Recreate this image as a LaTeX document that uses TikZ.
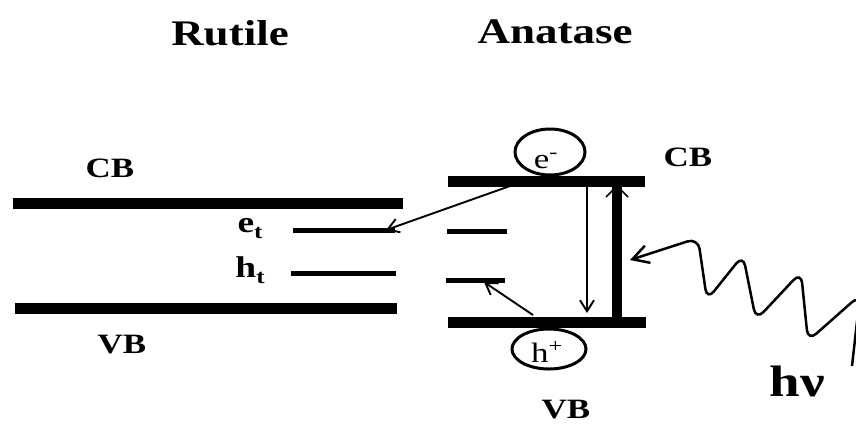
\documentclass[tikz,border=0pt]{standalone}
\usepackage{fontspec}
\setmainfont{Liberation Serif}
\usetikzlibrary{arrows.meta,shapes.geometric}
\newcommand{\lb}[2]{\scalebox{1.25}[1]{\fontsize{#1}{#1}\selectfont\bfseries #2}}
\newcommand{\sbt}{\raisebox{-6pt}{\fontsize{20}{20}\selectfont t}}
\begin{document}
\begin{tikzpicture}[x=1pt,y=-1pt,
  lbl/.style={inner sep=0pt, anchor=base},
  band/.style={line width=11pt},
  trap/.style={line width=5pt},
  arr/.style={line width=1.9pt, -{Straight Barb[length=11pt,width=14pt,line width=1.9pt]}},
  blob/.style={draw, ellipse, line width=3pt, inner sep=0pt}]
\useasboundingbox (0,0) rectangle (856,424);
\clip (0,0) rectangle (856,424);
% titles
\node[lbl] (rutile) at (230,45) {\lb{36}{Rutile}};
\node[lbl] (anatase) at (555,43) {\lb{36}{Anatase}};
% rutile labels
\node[lbl] (rcb) at (110,177) {\lb{28}{CB}};
\node[lbl] (rvb) at (122,353) {\lb{28}{VB}};
\node[lbl] (et) at (250,232) {\lb{30}{e\sbt}};
\node[lbl] (ht) at (250,277) {\lb{30}{h\sbt}};
% anatase labels
\node[lbl] (acb) at (688,166) {\lb{28}{CB}};
\node[lbl] (avb) at (566,418) {\lb{28}{VB}};
\node[lbl] (hnu) at (797,396) {\lb{44}{hν}};
% rutile bands
\coordinate (rcbL) at (13,203);  \coordinate (rcbR) at (403,203);
\coordinate (rvbL) at (15,308);  \coordinate (rvbR) at (397,308);
\coordinate (etL) at (293,230);  \coordinate (etR) at (395,230);
\coordinate (htL) at (291,273);  \coordinate (htR) at (396,273);
\draw[band] (rcbL) -- (rcbR);
\draw[band] (rvbL) -- (rvbR);
\draw[trap] (etL) -- (etR);
\draw[trap] (htL) -- (htR);
% electron / hole
\node[blob, minimum width=70pt, minimum height=46pt] (eblob) at (550,152) {};
\node[lbl] (etext) at (546,168) {\scalebox{1.25}[1]{\fontsize{28}{28}\selectfont e\textsuperscript{-}}};
\node[blob, minimum width=74pt, minimum height=40pt] (hblob) at (549,349) {};
\node[lbl] (htext) at (547,362) {\scalebox{1.25}[1]{\fontsize{28}{28}\selectfont h\textsuperscript{+}}};
% anatase bands
\coordinate (acbL) at (448,181); \coordinate (acbR) at (645,181);
\coordinate (avbL) at (448,322); \coordinate (avbR) at (646,322);
\coordinate (t1L) at (447,231);  \coordinate (t1R) at (507,231);
\coordinate (t2L) at (446,280);  \coordinate (t2R) at (505,280);
\draw[band] (acbL) -- (acbR);
\draw[band] (avbL) -- (avbR);
\draw[trap] (t1L) -- (t1R);
\draw[trap] (t2L) -- (t2R);
% excitation bar
\coordinate (barB) at (617,322); \coordinate (barT) at (617,186);
\draw[line width=10pt] (barB) -- (barT);
\coordinate (bhL) at (606,197); \coordinate (bhR) at (628,197);
\draw[line width=1.5pt] (bhL) -- (barT) -- (bhR);
% recombination arrow
\coordinate (downT) at (587,186); \coordinate (downB) at (587,313);
\draw[arr] (downT) -- (downB);
% transfer arrows
\coordinate (eStart) at (510,186); \coordinate (eEnd) at (386,230);
\draw[arr] (eStart) -- (eEnd);
\coordinate (hStart) at (533,315); \coordinate (hEnd) at (484,282);
\draw[arr] (hStart) -- (hEnd);
% photon
\coordinate (ph0) at (852,366);
\coordinate (ph1) at (860,295);
\coordinate (ph2) at (808,341);
\coordinate (ph3) at (801,272);
\coordinate (ph4) at (756,320);
\coordinate (ph5) at (743,255);
\coordinate (ph6) at (707,300);
\coordinate (ph7) at (698,238);
\coordinate (phT) at (630,260);
\draw[line width=2.5pt, rounded corners=11pt, -{Straight Barb[length=16pt,width=18pt,line width=2.5pt]}]
  (ph0) -- (ph1) -- (ph2) -- (ph3) -- (ph4) -- (ph5) -- (ph6) -- (ph7) -- (phT);
\end{tikzpicture}
\end{document}
